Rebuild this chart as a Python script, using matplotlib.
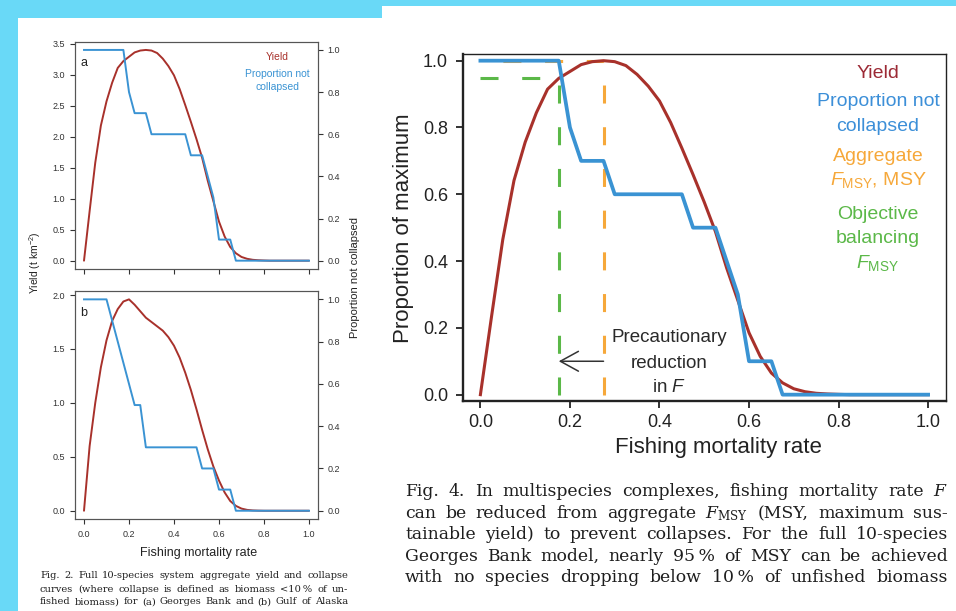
import matplotlib.pyplot as plt
from matplotlib.patches import Rectangle

W, H = 956, 611

# fishing mortality grid shared by every curve
F = [0.000, 0.025, 0.050, 0.075, 0.100, 0.125, 0.150, 0.175, 0.200, 0.225,
     0.250, 0.275, 0.300, 0.325, 0.350, 0.375, 0.400, 0.425, 0.450, 0.475,
     0.500, 0.525, 0.550, 0.575, 0.600, 0.625, 0.650, 0.675, 0.700, 0.725,
     0.750, 0.775, 0.800, 0.825, 0.850, 0.875, 0.900, 0.925, 0.950, 0.975,
     1.000]

# Georges Bank aggregate yield (t km-2) and proportion of species not collapsed
gb_yield = [0.00, 0.80, 1.58, 2.18, 2.57, 2.87, 3.11, 3.22, 3.29, 3.36,
            3.39, 3.40, 3.39, 3.35, 3.26, 3.14, 2.99, 2.77, 2.51, 2.24,
            1.96, 1.66, 1.29, 0.96, 0.63, 0.39, 0.22, 0.12, 0.06, 0.03,
            0.014, 0.007, 0.003, 0.0, 0.0, 0.0, 0.0, 0.0, 0.0, 0.0,
            0.0]
gb_alive = [1.0, 1.0, 1.0, 1.0, 1.0, 1.0, 1.0, 1.0, 0.8, 0.7,
            0.7, 0.7, 0.6, 0.6, 0.6, 0.6, 0.6, 0.6, 0.6, 0.5,
            0.5, 0.5, 0.4, 0.3, 0.1, 0.1, 0.1, 0.0, 0.0, 0.0,
            0.0, 0.0, 0.0, 0.0, 0.0, 0.0, 0.0, 0.0, 0.0, 0.0,
            0.0]

# Gulf of Alaska
goa_yield = [0.00, 0.60, 1.00, 1.33, 1.58, 1.76, 1.87, 1.94, 1.96, 1.91,
             1.85, 1.79, 1.75, 1.71, 1.67, 1.61, 1.53, 1.42, 1.28, 1.12,
             0.94, 0.75, 0.57, 0.41, 0.28, 0.17, 0.09, 0.045, 0.02, 0.008,
             0.003, 0.001, 0.0, 0.0, 0.0, 0.0, 0.0, 0.0, 0.0, 0.0,
             0.0]
goa_alive = [1.0, 1.0, 1.0, 1.0, 1.0, 0.9, 0.8, 0.7, 0.6, 0.5,
             0.5, 0.3, 0.3, 0.3, 0.3, 0.3, 0.3, 0.3, 0.3, 0.3,
             0.3, 0.2, 0.2, 0.2, 0.1, 0.1, 0.1, 0.0, 0.0, 0.0,
             0.0, 0.0, 0.0, 0.0, 0.0, 0.0, 0.0, 0.0, 0.0, 0.0,
             0.0]

F_MSY = 0.275       # aggregate F at maximum yield
F_BAL = 0.175       # objective balancing F

xticks = [0.0, 0.2, 0.4, 0.6, 0.8, 1.0]
prop_ticks = [0.0, 0.2, 0.4, 0.6, 0.8, 1.0]

cap4 = ["Fig. 4. In multispecies complexes, fishing mortality rate $F$",
        "can be reduced from aggregate $F_{\\mathrm{MSY}}$ (MSY, maximum sus-",
        "tainable yield) to prevent collapses. For the full 10-species",
        "Georges Bank model, nearly 95\u2009% of MSY can be achieved",
        "with no species dropping below 10\u2009% of unfished biomass"]
cap2 = ["Fig. 2. Full 10-species system aggregate yield and collapse",
        "curves (where collapse is defined as biomass <10\u2009% of un-",
        "fished biomass) for (a) Georges Bank and (b) Gulf of Alaska"]

RED = "#a8312b"
BLUE = "#3a93d3"
ORANGE = "#f6a83a"
GREEN = "#5bb848"
CYAN = "#69d9f7"
SANS = ["Liberation Sans", "DejaVu Sans"]
SERIF = ["DejaVu Serif", "Liberation Serif"]

plt.rcParams["font.family"] = SANS
plt.rcParams["mathtext.fontset"] = "custom"
plt.rcParams["mathtext.rm"] = "Liberation Sans"
plt.rcParams["mathtext.it"] = "Liberation Sans:italic"
plt.rcParams["mathtext.bf"] = "Liberation Sans:bold"


def box(left, top, right, bottom):
    return [left / W, 1 - bottom / H, (right - left) / W, (bottom - top) / H]


def at(x, y):
    return x / W, 1 - y / H


fig = plt.figure(figsize=(W / 100, H / 100), dpi=100)
fig.patch.set_facecolor(CYAN)
fig.add_artist(Rectangle(at(18, 611), 364 / W, 593 / H, transform=fig.transFigure,
                         facecolor="white", edgecolor="none", zorder=-5))
fig.add_artist(Rectangle(at(382, 611), 574 / W, 605 / H, transform=fig.transFigure,
                         facecolor="white", edgecolor="none", zorder=-5))


def small_panel(rect, yld, alive, yticks, label, show_x):
    ax = fig.add_axes(rect)
    ymax = max(yld)
    lo, hi = -0.04 * ymax, 1.04 * ymax
    ax.plot(F, yld, color=RED, lw=1.4, solid_capstyle="round")
    ax.set_xlim(-0.04, 1.04)
    ax.set_ylim(lo, hi)
    ax.set_xticks(xticks)
    ax.set_yticks(yticks)
    ax.set_yticklabels([f"{v:.1f}" for v in yticks])
    if show_x:
        ax.set_xticklabels([f"{v:.1f}" for v in xticks])
    else:
        ax.set_xticklabels([])
    ax.tick_params(direction="out", length=3.6, width=0.8, labelsize=6.5,
                   colors="#333333", pad=3.4)
    ax.tick_params(axis="x", pad=4.3)
    for s in ax.spines.values():
        s.set_color("#555555")
        s.set_linewidth(0.8)
    ax2 = ax.twinx()
    ax2.plot(F, alive, color=BLUE, lw=1.4)
    ax2.set_ylim(lo / ymax, hi / ymax)
    ax2.set_yticks(prop_ticks)
    ax2.set_yticklabels([f"{v:.1f}" for v in prop_ticks])
    ax2.tick_params(direction="out", length=3.6, width=0.8, labelsize=6.5,
                    colors="#333333", pad=3)
    for s in ax2.spines.values():
        s.set_color("#555555")
        s.set_linewidth(0.8)
    ax.text(0.0, 0.9 * hi, label, fontsize=9, color="#222222",
            ha="center", va="center")
    return ax


small_panel(box(75, 41.5, 318, 269.1), gb_yield, gb_alive,
            [0.0, 0.5, 1.0, 1.5, 2.0, 2.5, 3.0, 3.5], "a", False)
small_panel(box(75, 290.9, 318, 519.2), goa_yield, goa_alive,
            [0.0, 0.5, 1.0, 1.5, 2.0], "b", True)

fig.text(*at(277, 57), "Yield", color=RED, fontsize=7.5, ha="center", va="center")
fig.text(*at(277, 74), "Proportion not", color=BLUE, fontsize=7.5, ha="center", va="center")
fig.text(*at(277, 87), "collapsed", color=BLUE, fontsize=7.5, ha="center", va="center")
fig.text(*at(35, 263), "Yield (t km$^{-2}$)", rotation=90, fontsize=7.5,
         color="#222222", ha="center", va="center")
fig.text(*at(355, 278), "Proportion not collapsed", rotation=90, fontsize=8,
         color="#222222", ha="center", va="center")
fig.text(*at(199, 553), "Fishing mortality rate", fontsize=9,
         color="#222222", ha="center", va="center")

# relative yield panel
ax = fig.add_axes(box(462.5, 54, 946, 401))
rel = [v / max(gb_yield) for v in gb_yield]
y_bal = rel[F.index(F_BAL)]
dash = (0, (5.9, 7.75))
ax.plot([F_MSY, F_MSY, 0], [0, max(rel), max(rel)], color=ORANGE, lw=2.2, ls=dash)
ax.plot([F_BAL, F_BAL], [0, y_bal], color=GREEN, lw=2.2, ls=dash)
ax.plot([0, F_BAL], [y_bal, y_bal], color=GREEN, lw=2.2, ls=dash)
ax.plot(F, rel, color=RED, lw=2.2)
ax.plot(F, gb_alive, color=BLUE, lw=2.7)
ax.annotate("", xy=(F_BAL, 0.1), xytext=(F_MSY, 0.1),
            arrowprops=dict(arrowstyle="->,head_length=0.93,head_width=0.51",
                            mutation_scale=14, lw=1.1, color="#333333",
                            shrinkA=0, shrinkB=0))
ax.set_xlim(-0.04, 1.04)
ax.set_ylim(-0.019, 1.02)
ax.set_xticks(xticks)
ax.set_xticklabels([f"{v:.1f}" for v in xticks])
ax.set_yticks(prop_ticks)
ax.set_yticklabels([f"{v:.1f}" for v in prop_ticks])
ax.tick_params(direction="out", length=5, width=1.3, labelsize=13,
               colors="#222222", pad=5.4)
ax.tick_params(axis="x", pad=4.7)
for side, s in ax.spines.items():
    s.set_color("#222222")
    s.set_linewidth(1.7 if side in ("left", "bottom") else 1.0)

fig.text(*at(718, 447), "Fishing mortality rate", fontsize=16,
         color="#222222", ha="center", va="center")
fig.text(*at(403, 228), "Proportion of maximum", fontsize=16, rotation=90,
         color="#222222", ha="center", va="center")

legend = [("Yield", "#9c2a35", 73), ("Proportion not", "#3c8fd8", 101.5),
          ("collapsed", "#3c8fd8", 126.5), ("Aggregate", ORANGE, 156.5),
          ("$F_{\\mathrm{MSY}}$, MSY", ORANGE, 180), ("Objective", GREEN, 215),
          ("balancing", GREEN, 238.5), ("$F_{\\mathrm{MSY}}$", GREEN, 263)]
for txt, col, yy in legend:
    fig.text(*at(878, yy), txt, color=col, fontsize=14, ha="center", va="center")

for txt, yy in [("Precautionary", 338), ("reduction", 363), ("in $F$", 387)]:
    fig.text(*at(669, yy), txt, color="#2a2a2a", fontsize=13.5,
             ha="center", va="center")

# justified caption text
rend = fig.canvas.get_renderer()


def justify(line, x0, x1, base, size):
    words = line.split(" ")
    texts = [fig.text(0, 1 - base / H, w, fontsize=size, family=SERIF,
                      math_fontfamily="dejavuserif", color="#1e1e1e",
                      ha="left", va="baseline") for w in words]
    widths = [t.get_window_extent(rend).width for t in texts]
    gap = max((x1 - x0 - sum(widths)) / (len(words) - 1), 2.0)
    x = x0
    for t, wd in zip(texts, widths):
        t.set_x(x / W)
        x += wd + gap


for line, base in zip(cap4, [496, 518, 539, 561, 582]):
    justify(line, 405, 948, base, 12.4)
for line, base in zip(cap2, [578, 591.5, 604.5]):
    justify(line, 40, 348, base, 7.1)

fig.savefig("out.png", dpi=100, facecolor=fig.get_facecolor())
